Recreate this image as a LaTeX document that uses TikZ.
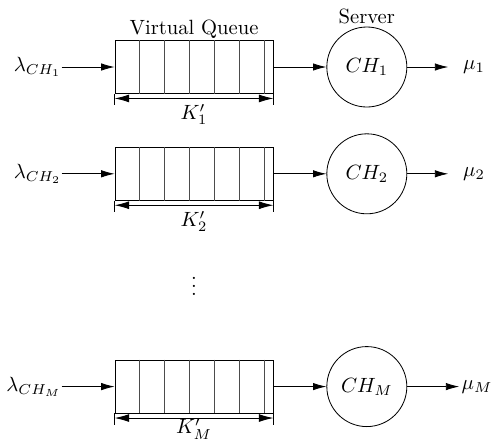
\documentclass[tikz,border=0pt]{standalone}
\usepackage{amsmath,amssymb}
\usetikzlibrary{positioning,arrows.meta,calc}

\begin{document}
\begin{tikzpicture}[
  queue/.style={draw, rectangle, minimum width=2.695cm, minimum height=0.904cm, inner sep=0pt},
  server/.style={draw, circle, minimum size=1.365cm, inner sep=0pt},
  flow/.style={-{Latex[length=6.5pt,width=3.6pt]}},
  dimline/.style={{Latex[length=7pt,width=3.8pt]}-{Latex[length=7pt,width=3.8pt]}},
  cell/.style={black!70},
  inlabel/.style={inner sep=0pt},
  outlabel/.style={inner ysep=0pt}]
\useasboundingbox (0,0) rectangle (8.428,-7.592);

% queues
\node[queue] (q1) at (3.310,-1.143) {};
\node[queue, below=0.904cm of q1] (q2) {};
\node[queue, below=2.712cm of q2] (qM) {};
\foreach \q in {q1,q2,qM}{
  \foreach \k in {1,...,6}
    \draw[cell] ([xshift=\k*0.4265cm]\q.north west) -- ([xshift=\k*0.4265cm]\q.south west);
  \draw[dimline] ([yshift=-2.2pt]\q.south west) -- ([yshift=-2.2pt]\q.south east);
  \draw (\q.south west) -- ++(0,-0.19);
  \draw (\q.south east) -- ++(0,-0.19);
}
\node[above=0pt of q1, inner sep=0.5pt] (vq) {Virtual Queue};
\node[below=1.5pt of q1] (k1) {$K'_1$};
\node[below=1.5pt of q2] (k2) {$K'_2$};
\node[below=0pt of qM, inner ysep=2pt] (kM) {$K'_M$};

% servers
\node[server, right=0.904cm of q1] (c1) {$CH_1$};
\node[server, right=0.904cm of q2] (c2) {$CH_2$};
\node[server, right=0.904cm of qM] (cM) {$CH_M$};
\node[above=0pt of c1, inner sep=1pt] (srv) {Server};

% arrivals
\node[inlabel, left=0.904cm of q1] (lam1) {$\lambda_{CH_1}$};
\node[inlabel, left=0.904cm of q2] (lam2) {$\lambda_{CH_2}$};
\node[inlabel, left=0.904cm of qM] (lamM) {$\lambda_{CH_M}$};

% departures
\node[outlabel, inner xsep=7pt, right=0.70cm of c1] (mu1) {$\mu_1$};
\node[outlabel, inner xsep=7pt, right=0.70cm of c2] (mu2) {$\mu_2$};
\node[outlabel, inner xsep=1pt, right=0.887cm of cM] (muM) {$\mu_M$};

\node (dots) at ($(q2)!0.5!(qM)$) {$\vdots$};

\draw[flow] (lam1) -- (q1);
\draw[flow] (lam2) -- (q2);
\draw[flow] (lamM) -- (qM);
\draw[flow] (q1) -- (c1);
\draw[flow] (q2) -- (c2);
\draw[flow] (qM) -- (cM);
\draw[flow] (c1) -- (mu1);
\draw[flow] (c2) -- (mu2);
\draw[flow] (cM) -- (muM);
\end{tikzpicture}
\end{document}
